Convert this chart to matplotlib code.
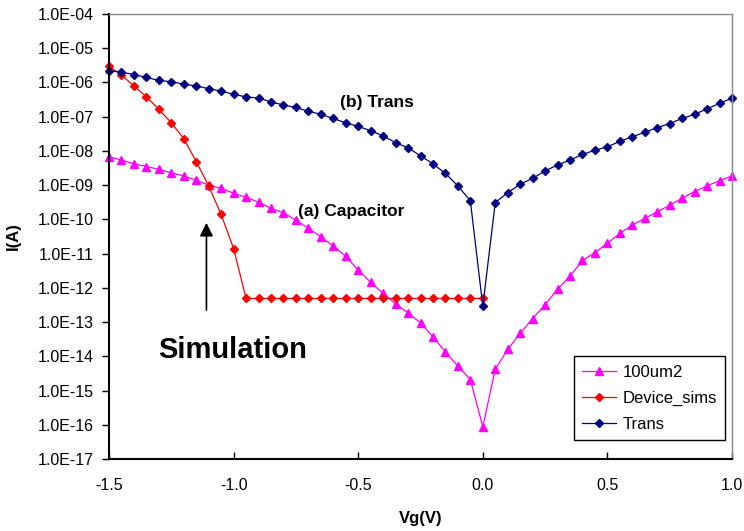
import numpy as np
import matplotlib
matplotlib.use('Agg')
import matplotlib.pyplot as plt
from matplotlib.ticker import FixedLocator, FuncFormatter

plt.rcParams['font.family'] = ['Liberation Sans', 'DejaVu Sans']

# Gate voltage sweep (V), 0.05 V steps
vg = np.round(np.linspace(-1.5, 1.0, 51), 2)
vg_sims = vg[:31]  # -1.5 .. 0.0

cap_100um2 = [
    6.8e-9, 5.4e-9, 4.2e-9, 3.5e-9, 2.9e-9, 2.3e-9, 1.86e-9, 1.4e-9, 1.0e-9, 8.1e-10,
    5.8e-10, 4.4e-10, 3.2e-10, 2.1e-10, 1.55e-10, 9.5e-11, 5.5e-11, 3.1e-11, 1.66e-11, 8.3e-12,
    3.3e-12, 1.45e-12, 6.9e-13, 3.4e-13, 1.86e-13, 9.5e-14, 3.7e-14, 1.35e-14, 5.2e-15, 2.1e-15,
    8.7e-17,
    4.2e-15, 1.6e-14, 4.7e-14, 1.26e-13, 3.2e-13, 9.1e-13, 2.2e-12, 6.3e-12, 1.07e-11, 2.0e-11,
    3.9e-11, 6.9e-11, 1.07e-10, 1.66e-10, 2.6e-10, 4.2e-10, 6.5e-10, 9.5e-10, 1.35e-9, 1.86e-9,
]

device_sims = [
    3.0e-6, 1.66e-6, 7.9e-7, 3.8e-7, 1.66e-7, 6.6e-8, 2.3e-8, 4.9e-9, 9.5e-10, 1.4e-10,
    1.4e-11, 4.9e-13, 4.9e-13, 4.9e-13, 4.9e-13, 4.9e-13, 4.9e-13, 4.9e-13, 4.9e-13, 4.9e-13,
    4.9e-13, 4.9e-13, 4.9e-13, 4.9e-13, 4.9e-13, 4.9e-13, 4.9e-13, 4.9e-13, 4.9e-13, 4.9e-13,
    4.9e-13,
]

trans = [
    2.2e-6, 2.0e-6, 1.7e-6, 1.4e-6, 1.15e-6, 1.05e-6, 8.9e-7, 7.9e-7, 6.6e-7, 5.6e-7,
    4.5e-7, 3.8e-7, 3.5e-7, 2.7e-7, 2.2e-7, 1.86e-7, 1.45e-7, 1.17e-7, 8.9e-8, 6.6e-8,
    5.2e-8, 3.9e-8, 2.75e-8, 1.74e-8, 1.23e-8, 7.2e-9, 4.2e-9, 2.2e-9, 9.5e-10, 3.5e-10,
    2.9e-13,
    3.1e-10, 6.0e-10, 1.07e-9, 1.58e-9, 2.6e-9, 3.9e-9, 5.4e-9, 7.9e-9, 1.05e-8, 1.32e-8,
    1.9e-8, 2.6e-8, 3.5e-8, 4.8e-8, 6.3e-8, 8.9e-8, 1.17e-7, 1.7e-7, 2.45e-7, 3.5e-7,
]

x_ticks = [-1.5, -1.0, -0.5, 0.0, 0.5, 1.0]
y_ticks = [10.0 ** e for e in range(-17, -3)]

fig = plt.figure(figsize=(7.44, 5.31), dpi=100)
ax = fig.add_axes([109 / 744, 1 - 459 / 531, (732 - 109) / 744, (459 - 14) / 531])

ax.plot(vg, cap_100um2, '-^', color='#FF00FF', lw=0.9, ms=6.4, mec='#FF00FF',
        label='100um2', clip_on=False)
ax.plot(vg_sims, device_sims, '-D', color='#FF0000', lw=0.9, ms=4.0, mec='#FF0000',
        label='Device_sims', clip_on=False)
ax.plot(vg, trans, '-D', color='#000080', lw=0.9, ms=4.3, mec='#000080',
        label='Trans', clip_on=False)

ax.set_yscale('log')
ax.set_xlim(-1.5, 1.0)
ax.set_ylim(1e-17, 1e-4)
ax.xaxis.set_major_locator(FixedLocator(x_ticks))
ax.xaxis.set_major_formatter(FuncFormatter(lambda v, p: f'{v:.1f}'))
ax.yaxis.set_major_locator(FixedLocator(y_ticks))
ax.yaxis.set_minor_locator(FixedLocator([]))
ax.yaxis.set_major_formatter(FuncFormatter(lambda v, p: f'{v:.1E}'))

ax.tick_params(axis='x', direction='in', length=5, width=1, pad=14, labelsize=11.5)
ax.tick_params(axis='y', direction='out', length=5, width=1, pad=6, labelsize=11.5)

for side in ('left', 'bottom'):
    ax.spines[side].set_color('black')
    ax.spines[side].set_linewidth(1.5)
for side in ('top', 'right'):
    ax.spines[side].set_color('#888888')
    ax.spines[side].set_linewidth(1.0)

ax.set_xlabel('Vg(V)', fontsize=12, fontweight='bold', labelpad=12.5)
ax.set_ylabel('I(A)', fontsize=12, fontweight='bold')
ax.yaxis.set_label_coords(-88 / 623, 0.5)

# annotations
ax.text(-0.574, 10 ** -6.60, '(b) Trans', fontsize=12.5, fontweight='bold', va='center')
ax.text(-0.742, 10 ** -9.78, '(a) Capacitor', fontsize=12.5, fontweight='bold', va='center')
ax.text(-1.304, 10 ** -13.82, 'Simulation', fontsize=21, fontweight='bold', va='center')
ax.annotate('', xy=(-1.109, 10 ** -10.10), xytext=(-1.109, 10 ** -12.65),
            arrowprops=dict(arrowstyle='-|>', color='black', lw=1.2,
                            mutation_scale=20, shrinkA=0, shrinkB=0))

leg = ax.legend(loc='lower right', bbox_to_anchor=(725 / 744, 1 - 440 / 531),
                bbox_transform=fig.transFigure, fontsize=12, frameon=True,
                fancybox=False, edgecolor='black', framealpha=1, handlelength=2.04,
                borderpad=0.5, labelspacing=0.66, handletextpad=0.36, borderaxespad=0)
leg.get_frame().set_linewidth(1.0)

fig.savefig('out.png', dpi=100)
